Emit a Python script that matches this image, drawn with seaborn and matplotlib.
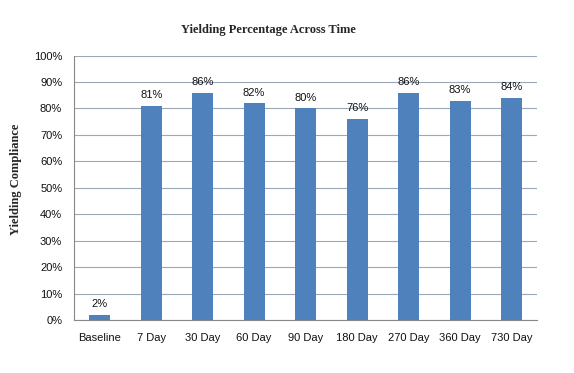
import matplotlib
matplotlib.use("Agg")
import matplotlib.pyplot as plt
import seaborn as sns
import pandas as pd
from matplotlib.ticker import FixedLocator, PercentFormatter

# data
periods = ["Baseline", "7 Day", "30 Day", "60 Day", "90 Day", "180 Day", "270 Day", "360 Day", "730 Day"]
compliance = [2, 81, 86, 82, 80, 76, 86, 83, 84]

df = pd.DataFrame({"Period": periods, "Compliance": compliance})

sns.set_style("white")
plt.rcParams["font.family"] = ["Liberation Sans", "DejaVu Sans"]

fig = plt.figure(figsize=(5.74, 3.73), dpi=100)
ax = fig.add_axes([0.129, 0.142, 0.807, 0.709])

sns.barplot(data=df, x="Period", y="Compliance", color="#4F81BD", width=0.41,
            saturation=1, linewidth=0, ax=ax, zorder=3)

for i, v in enumerate(compliance):
    ax.annotate(f"{v}%", (i, v), xytext=(0, 4), textcoords="offset points",
                ha="center", va="bottom", fontsize=8, color="#111111")

ax.set_ylim(0, 100)
ax.set_xlim(-0.5, len(periods) - 0.5)
ax.set_yticks(range(0, 101, 10))
ax.yaxis.set_major_formatter(PercentFormatter(decimals=0))
ax.grid(axis="y", color="#9AA7B8", linewidth=0.8, zorder=0)

# ticks sit between the categories, like the original
ax.xaxis.set_minor_locator(FixedLocator([i - 0.5 for i in range(len(periods) + 1)]))
ax.tick_params(axis="x", which="major", length=0, pad=9, labelsize=8, labelcolor="#111111")
ax.tick_params(axis="x", which="minor", length=5, color="#888888", width=0.8)
ax.tick_params(axis="y", length=5, color="#888888", width=0.8, labelsize=8, labelcolor="#111111")

for s in ["top", "right"]:
    ax.spines[s].set_visible(False)
for s in ["left", "bottom"]:
    ax.spines[s].set_color("#888888")
    ax.spines[s].set_linewidth(0.8)

ax.set_xlabel("")
ax.set_ylabel("Yielding Compliance", family=["Liberation Serif", "DejaVu Serif"],
              fontweight="bold", fontsize=9)
ax.yaxis.set_label_coords(-0.112, 0.532)
fig.text(0.467, 0.92, "Yielding Percentage Across Time", ha="center", va="center",
         family=["Liberation Serif", "DejaVu Serif"], fontweight="bold", fontsize=9)

fig.savefig("out.png", dpi=100)
